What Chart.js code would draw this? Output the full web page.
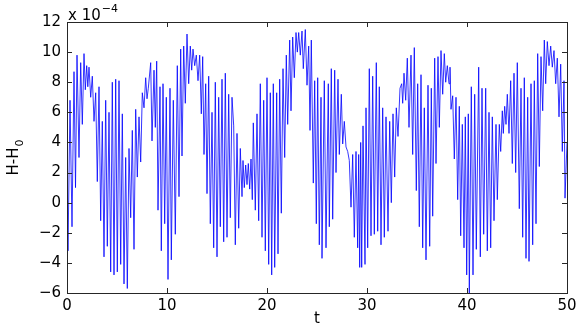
<!DOCTYPE html>
<html>
<head>
<meta charset="utf-8">
<script src="https://cdn.jsdelivr.net/npm/chart.js@4.4.1/dist/chart.umd.min.js"></script>
<style>
  body { margin: 0; background: #fff; }
  canvas { display: block; }
</style>
</head>
<body>
<canvas id="plot" width="581" height="327"></canvas>
<script>
// time samples (t) and H-H0, in units of 1e-4
const tValues = [
  0.00, 0.10, 0.30, 0.50, 0.70, 0.85, 1.00, 1.20, 1.37, 1.53, 1.70, 1.83, 1.97, 2.08, 2.20, 2.37, 2.53, 2.70, 2.87, 3.03,
  3.20, 3.37, 3.53, 3.70, 3.87, 4.03, 4.20, 4.37, 4.53, 4.70, 4.87, 5.03, 5.20, 5.37, 5.53, 5.70, 5.87, 6.03, 6.20, 6.37,
  6.53, 6.70, 6.87, 7.03, 7.20, 7.37, 7.53, 7.70, 7.87, 8.00, 8.13, 8.37, 8.50, 8.70, 8.83, 8.97, 9.10, 9.30, 9.43, 9.60,
  9.77, 9.93, 10.10, 10.30, 10.43, 10.63, 10.83, 11.03, 11.20, 11.37, 11.50, 11.67, 11.83, 12.00, 12.17, 12.33, 12.47, 12.60, 12.77, 12.93,
  13.10, 13.27, 13.43, 13.57, 13.70, 13.87, 14.00, 14.17, 14.33, 14.50, 14.67, 14.83, 15.00, 15.17, 15.33, 15.50, 15.67, 15.83, 16.00, 16.17,
  16.33, 16.50, 16.67, 16.83, 17.00, 17.17, 17.33, 17.50, 17.60, 17.73, 17.87, 18.00, 18.13, 18.27, 18.40, 18.53, 18.63, 18.83, 19.00, 19.17,
  19.33, 19.50, 19.67, 19.83, 20.00, 20.17, 20.33, 20.47, 20.63, 20.77, 20.97, 21.10, 21.27, 21.43, 21.60, 21.77, 21.93, 22.07, 22.27, 22.40,
  22.57, 22.73, 22.90, 23.03, 23.17, 23.33, 23.50, 23.63, 23.83, 24.00, 24.17, 24.30, 24.43, 24.63, 24.77, 24.93, 25.07, 25.23, 25.40, 25.50,
  25.73, 25.90, 26.13, 26.23, 26.43, 26.57, 26.77, 26.90, 27.10, 27.23, 27.43, 27.57, 27.73, 27.90, 28.07, 28.23, 28.40, 28.57, 28.73, 28.90,
  29.07, 29.17, 29.27, 29.37, 29.47, 29.60, 29.80, 29.90, 30.07, 30.23, 30.40, 30.57, 30.73, 30.93, 31.07, 31.23, 31.40, 31.57, 31.73, 31.90,
  32.10, 32.27, 32.43, 32.60, 32.77, 32.93, 33.10, 33.30, 33.47, 33.57, 33.70, 33.87, 34.03, 34.20, 34.40, 34.57, 34.73, 34.93, 35.07, 35.23,
  35.40, 35.57, 35.73, 35.90, 36.10, 36.27, 36.43, 36.57, 36.77, 36.90, 37.10, 37.23, 37.40, 37.57, 37.73, 37.87, 38.03, 38.20, 38.30, 38.40,
  38.57, 38.73, 38.90, 39.07, 39.23, 39.37, 39.53, 39.70, 39.83, 39.97, 40.13, 40.23, 40.43, 40.60, 40.77, 40.93, 41.17, 41.33, 41.50, 41.67,
  41.87, 42.03, 42.20, 42.37, 42.53, 42.70, 42.90, 43.03, 43.23, 43.37, 43.53, 43.63, 43.77, 43.90, 44.03, 44.20, 44.37, 44.53, 44.70, 44.87,
  45.03, 45.23, 45.40, 45.57, 45.73, 45.90, 46.07, 46.20, 46.40, 46.57, 46.73, 46.90, 47.07, 47.23, 47.40, 47.57, 47.73, 47.87, 48.03, 48.20,
  48.37, 48.53, 48.70, 48.87, 49.03, 49.20, 49.37, 49.53, 49.70, 49.80, 50.00
];
const hValues = [
  2.0, -3.2, 6.8, -1.6, 8.7, 1.0, 9.8, 3.0, 9.3, 5.2, 9.9, 7.5, 9.1, 7.7, 9.0, 7.0, 8.4, 5.4, 7.3, 1.4,
  7.7, -1.2, 5.4, -3.6, 6.8, -2.9, 6.0, -4.6, 8.0, -4.8, 8.2, -4.6, 8.1, -4.1, 5.9, -5.4, 3.0, -5.7, 3.6, -1.0,
  4.8, -3.1, 6.2, 1.7, 5.7, 2.7, 7.3, 6.3, 8.3, 6.9, 7.6, 9.3, 4.1, 8.8, 5.0, 9.4, -0.5, 7.7, -3.2, 7.9,
  -1.4, 7.0, -5.1, 7.6, -3.8, 6.8, -2.1, 9.1, 0.4, 10.2, 3.1, 10.4, 6.6, 11.2, 7.9, 10.4, 8.8, 10.2, 9.1, 9.8,
  8.1, 9.8, 5.9, 9.7, 3.2, 7.9, 0.6, 8.4, -1.4, 6.0, -3.0, 8.0, -3.6, 7.0, -1.6, 8.2, -2.6, 8.6, -2.3, 7.2,
  -1.0, 7.0, 5.1, -2.8, 4.6, -1.7, 3.6, 0.4, 2.8, 1.0, 2.5, 1.2, 2.6, 0.9, 2.9, 0.2, 5.3, -0.5, 5.9, -1.2,
  7.9, -2.3, 6.8, -3.2, 8.3, -4.1, 7.3, -4.8, 7.9, -4.3, 7.3, -3.4, 8.2, -0.7, 8.9, 3.0, 9.8, 5.2, 10.8, 6.1,
  11.0, 8.3, 11.3, 10.0, 11.3, 9.8, 11.4, 8.9, 11.5, 7.8, 10.4, 4.8, 10.8, 1.3, 8.1, -1.4, 8.3, -2.8, 7.0, -3.7,
  8.1, -3.0, 7.9, -1.6, 8.9, -1.1, 8.8, 2.0, 8.2, 3.2, 7.2, 3.9, 5.4, 3.7, 3.4, 2.8, -0.3, 3.2, -2.3, 3.4,
  -3.0, 3.2, -4.3, 4.0, -4.3, 5.1, -4.1, 6.3, -3.0, 8.9, -2.2, 8.4, -2.1, 9.3, -1.9, 7.7, -2.8, 6.3, -2.3, 5.7,
  -1.9, 5.4, 0.0, 5.9, 1.7, 6.3, 4.4, 7.6, 7.9, 6.6, 8.6, 6.8, 9.6, 5.0, 9.8, 3.2, 10.3, 0.8, 7.9, -1.6,
  8.5, -3.0, 6.3, -3.8, 7.8, -2.9, 7.6, -0.9, 9.6, 2.6, 9.7, 5.0, 10.1, 7.2, 9.9, 8.0, 9.1, 7.9, 9.0, 6.2,
  7.1, 2.9, 7.0, 0.2, 6.4, -2.2, 5.2, -3.0, 5.7, -4.8, 5.9, -6.0, 7.7, -4.8, 7.2, -3.1, 9.0, -3.6, 7.6, -2.1,
  7.6, -3.2, 6.0, -3.0, 5.7, -1.2, 5.2, 0.2, 5.2, 3.4, 6.1, 4.6, 6.4, 5.2, 7.2, 4.6, 8.1, 2.6, 8.6, 2.0,
  9.3, -0.4, 7.6, -2.3, 8.3, -3.7, 7.0, -3.9, 7.9, -2.8, 8.1, -1.4, 9.9, 2.4, 9.7, 6.1, 10.8, 7.9, 10.7, 9.1,
  10.4, 9.0, 10.1, 7.9, 9.6, 5.7, 9.2, 3.4, 8.1, 0.3, 4.0
];
const xTickValues = [0, 10, 20, 30, 40, 50];
const yTickValues = [-6, -4, -2, 0, 2, 4, 6, 8, 10, 12];

const fontFamily = '"DejaVu Sans", "Liberation Sans", sans-serif';
const axisColor = '#262626';

// box round the plot, ticks pointing inwards, MATLAB style, plus the text labels
const matlabAxes = {
  id: 'matlabAxes',
  afterDraw(chart) {
    const { ctx, chartArea: a, scales } = chart;
    const tick = 5;
    ctx.save();
    ctx.strokeStyle = axisColor;
    ctx.lineWidth = 1;
    ctx.strokeRect(Math.round(a.left) + 0.5, Math.round(a.top) + 0.5,
      Math.round(a.right - a.left), Math.round(a.bottom - a.top));
    ctx.beginPath();
    xTickValues.forEach(v => {
      const x = Math.round(scales.x.getPixelForValue(v)) + 0.5;
      ctx.moveTo(x, a.bottom); ctx.lineTo(x, a.bottom - tick);
      ctx.moveTo(x, a.top); ctx.lineTo(x, a.top + tick);
    });
    yTickValues.forEach(v => {
      const y = Math.round(scales.y.getPixelForValue(v)) + 0.5;
      ctx.moveTo(a.left, y); ctx.lineTo(a.left + tick, y);
      ctx.moveTo(a.right, y); ctx.lineTo(a.right - tick, y);
    });
    ctx.stroke();

    ctx.fillStyle = '#000';
    // x label
    ctx.font = '15px ' + fontFamily;
    ctx.textAlign = 'center';
    ctx.textBaseline = 'alphabetic';
    ctx.fillText('t', (a.left + a.right) / 2, 323);

    // exponent above the y axis
    ctx.textAlign = 'left';
    ctx.font = '15px ' + fontFamily;
    ctx.fillText('x 10', a.left + 1, 20);
    const w = ctx.measureText('x 10').width;
    ctx.font = '11px ' + fontFamily;
    ctx.fillText('\u22124', a.left + 2 + w, 12);

    // y label, rotated, with subscript
    ctx.translate(18, (a.top + a.bottom) / 2);
    ctx.rotate(-Math.PI / 2);
    ctx.font = '15px ' + fontFamily;
    ctx.textAlign = 'left';
    const main = 'H-H';
    const mw = ctx.measureText(main).width;
    ctx.fillText(main, -mw / 2 - 4, 0);
    ctx.font = '11px ' + fontFamily;
    ctx.fillText('0', mw / 2 - 3, 5);
    ctx.restore();
  }
};

new Chart(document.getElementById('plot').getContext('2d'), {
  type: 'line',
  data: {
    datasets: [{
      data: tValues.map((t, i) => ({ x: t, y: hValues[i] })),
      borderColor: 'rgb(0, 0, 255)',
      borderWidth: 0.8,
      pointRadius: 0,
      tension: 0,
      fill: false
    }]
  },
  options: {
    responsive: false,
    animation: false,
    layout: { padding: { top: 22, right: 14, left: 0, bottom: 0 } },
    plugins: { legend: { display: false }, tooltip: { enabled: false } },
    scales: {
      x: {
        type: 'linear',
        min: 0,
        max: 50,
        afterBuildTicks: s => { s.ticks = xTickValues.map(v => ({ value: v })); },
        afterFit: s => { s.height = 34; },
        grid: { display: false, drawTicks: false },
        border: { display: false },
        ticks: { color: '#000', font: { family: fontFamily, size: 15 }, padding: 4, maxRotation: 0, autoSkip: false }
      },
      y: {
        type: 'linear',
        min: -6,
        max: 12,
        afterBuildTicks: s => { s.ticks = yTickValues.map(v => ({ value: v })); },
        afterFit: s => { s.width = 67; },
        grid: { display: false, drawTicks: false },
        border: { display: false },
        ticks: {
          color: '#000',
          font: { family: fontFamily, size: 15 },
          padding: 6,
          autoSkip: false,
          callback: v => String(v).replace('-', '\u2212')
        }
      }
    }
  },
  plugins: [matlabAxes]
});
</script>
</body>
</html>
